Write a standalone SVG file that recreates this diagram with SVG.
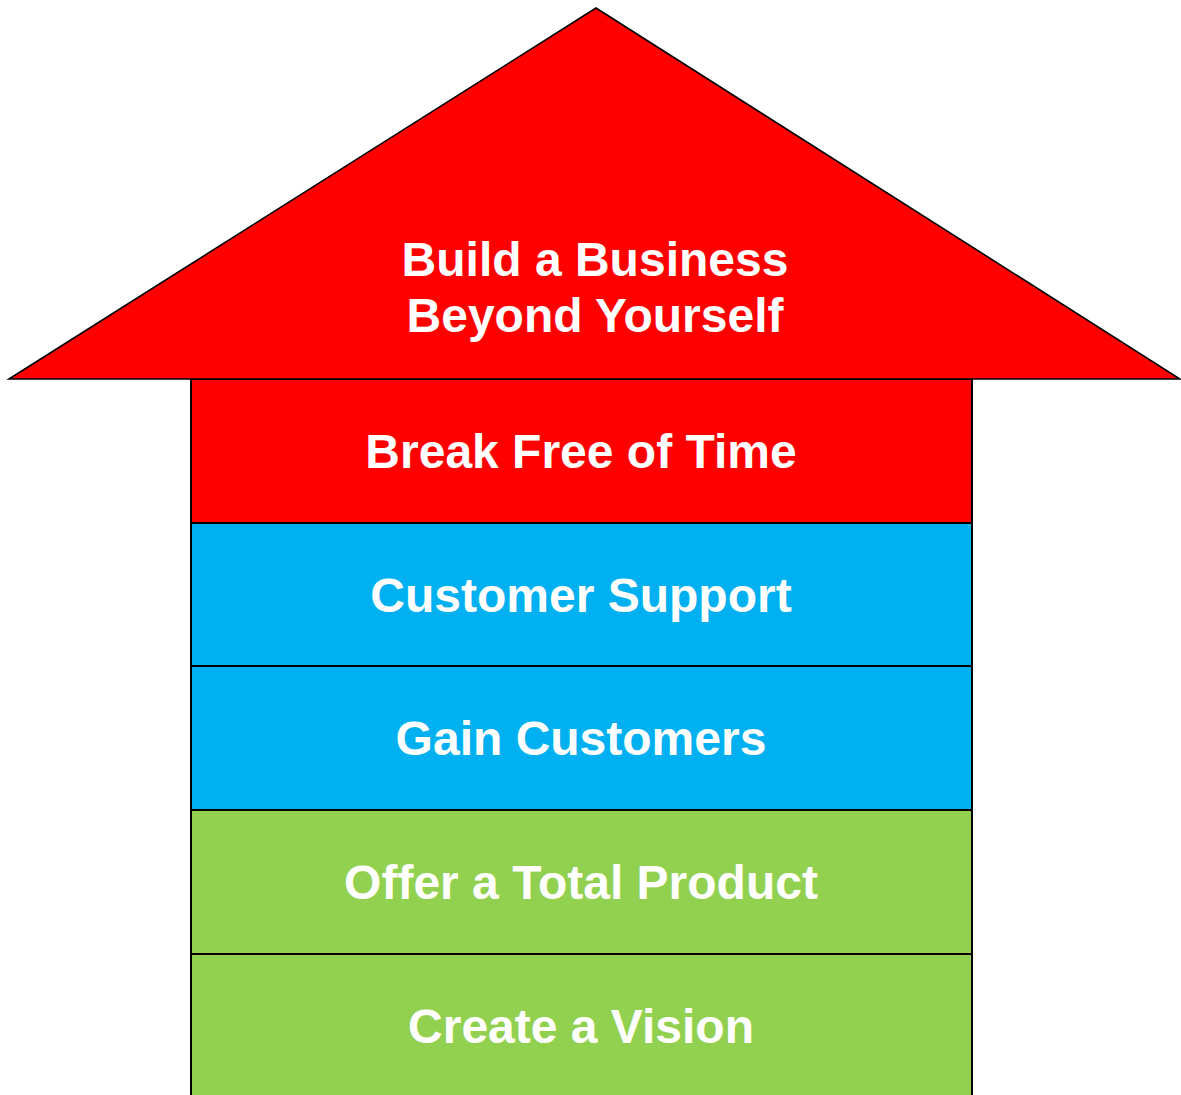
<svg xmlns="http://www.w3.org/2000/svg" width="1181" height="1095" viewBox="0 0 1181 1095">
  <style>
    .red { fill: #FF0000; }
    .blue { fill: #00B0F0; }
    .green { fill: #92D050; }
    .box { stroke: #000000; stroke-width: 2; }
    .roof { stroke: #000000; stroke-width: 1.6; stroke-linejoin: miter; }
    .label { fill: #FFFFFF; font-family: "Liberation Sans", Arial, sans-serif; font-weight: bold; font-size: 48px; text-anchor: middle; }
  </style>
  <rect width="1181" height="1095" fill="#FFFFFF"/>

  <!-- stacked levels, bottom to top -->
  <g id="create-vision">
    <rect class="box green" x="191" y="954" width="781" height="150"/>
    <text class="label" x="581" y="1043">Create a Vision</text>
  </g>
  <g id="total-product">
    <rect class="box green" x="191" y="810" width="781" height="144"/>
    <text class="label" x="581" y="899">Offer a Total Product</text>
  </g>
  <g id="gain-customers">
    <rect class="box blue" x="191" y="666" width="781" height="144"/>
    <text class="label" x="581" y="755">Gain Customers</text>
  </g>
  <g id="customer-support">
    <rect class="box blue" x="191" y="523" width="781" height="143"/>
    <text class="label" x="581" y="612">Customer Support</text>
  </g>
  <g id="break-free">
    <rect class="box red" x="191" y="379" width="781" height="144"/>
    <text class="label" x="581" y="468">Break Free of Time</text>
  </g>

  <!-- roof -->
  <g id="build-business">
    <polygon class="roof red" points="9,379 596,8 1180,379"/>
    <text class="label" x="595" y="276">Build a Business</text>
    <text class="label" x="595" y="332">Beyond Yourself</text>
  </g>

  <g id="connectors"/>
</svg>
